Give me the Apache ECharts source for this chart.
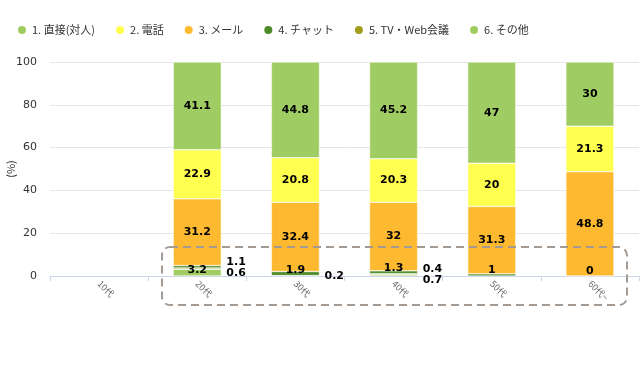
<!DOCTYPE html>
<html>
<head>
<meta charset="utf-8">
<script src="https://cdn.jsdelivr.net/npm/echarts@6/dist/echarts.min.js"></script>
<style>html,body{margin:0;padding:0;background:#fff}#c{width:640px;height:370px}</style>
</head>
<body>
<div id="c"></div>
<script>
// ---- data ----
const categories = ['10代', '20代', '30代', '40代', '50代', '60代~'];
const legendNames = ['1. 直接(対人)', '2. 電話', '3. メール', '4. チャット', '5. TV・Web会議', '6. その他'];
const direct = [null, 41.1, 44.8, 45.2, 47, 30];
const phone  = [null, 22.9, 20.8, 20.3, 20, 21.3];
const mail   = [null, 31.2, 32.4, 32, 31.3, 48.8];
const chat   = [null, 1.1, 1.9, 1.3, 1, 0];
const tvweb  = [null, 0.6, 0.2, 0.4, null, null];
const other  = [null, 3.2, null, 0.7, null, null];
const yTicks = { min: 0, max: 100, interval: 20 };

// ---- styles ----
const colors = {
  direct: '#a0cd63', phone: '#ffff50', mail: '#fdb92f',
  chat: '#4e8b2a', tvweb: '#a19d1c', other: '#a0cd63'
};

// stacking order bottom -> top
const stackOrder = [
  { name: legendNames[5], data: other, color: colors.other, small: true },
  { name: legendNames[4], data: tvweb, color: colors.tvweb, small: true },
  { name: legendNames[3], data: chat, color: colors.chat, small: true },
  { name: legendNames[2], data: mail, color: colors.mail, small: false },
  { name: legendNames[1], data: phone, color: colors.phone, small: false },
  { name: legendNames[0], data: direct, color: colors.direct, small: false }
];
const smallIdx = [0, 1, 2];

// percent stacking: totals per category
const totals = categories.map((c, di) =>
  stackOrder.reduce((t, cfg) => t + (cfg.data[di] == null ? 0 : cfg.data[di]), 0));
function pct(v, di) { return totals[di] > 0 ? v / totals[di] * 100 : 0; }

function isRight(si, di) {
  if (!stackOrder[si].small) return false;
  const v = stackOrder[si].data[di];
  if (v == null) return false;
  let maxV = -Infinity, maxS = -1;
  smallIdx.forEach(s => {
    const w = stackOrder[s].data[di];
    if (w != null && w > maxV) { maxV = w; maxS = s; }
  });
  return si !== maxS;
}

const chart = echarts.init(document.getElementById('c'), null, { renderer: 'canvas' });

function naturalY(si, di) {
  let base = 0;
  for (let s = 0; s < si; s++) {
    const w = stackOrder[s].data[di];
    if (w != null) base += pct(w, di);
  }
  const v = pct(stackOrder[si].data[di], di);
  return chart.convertToPixel({ yAxisIndex: 0 }, base + v / 2);
}

function layoutRight(params) {
  const si = params.seriesIndex, di = params.dataIndex;
  if (!isRight(si, di)) return {};
  const group = smallIdx.filter(s => isRight(s, di)).map(s => ({ s, y: naturalY(s, di) }));
  group.sort((a, b) => a.y - b.y);
  const sep = 11;
  let clusters = group.map(g => ({ items: [g], center: g.y }));
  let merged = true;
  while (merged) {
    merged = false;
    for (let i = 0; i < clusters.length - 1; i++) {
      const a = clusters[i], b = clusters[i + 1];
      const aBottom = a.center + (a.items.length - 1) / 2 * sep;
      const bTop = b.center - (b.items.length - 1) / 2 * sep;
      if (bTop - aBottom < sep) {
        const items = a.items.concat(b.items);
        const center = items.reduce((t, it) => t + it.y, 0) / items.length;
        clusters.splice(i, 2, { items, center });
        merged = true;
        break;
      }
    }
  }
  let newY = null, myY = null;
  clusters.forEach(c => {
    c.items.forEach((it, k) => {
      if (it.s === si) {
        myY = it.y;
        newY = c.center + (k - (c.items.length - 1) / 2) * sep;
      }
    });
  });
  return { dy: newY - myY };
}

const labelFont = { color: '#000', fontWeight: 'bold', fontSize: 11, fontFamily: 'DejaVu Sans' };

const series = stackOrder.map((cfg, si) => ({
  name: cfg.name,
  type: 'bar',
  stack: 'total',
  barWidth: '49%',
  itemStyle: { color: cfg.color, borderColor: '#fff', borderWidth: 0.5 },
  label: Object.assign({
    show: true, position: 'inside',
    formatter: p => String(stackOrder[p.seriesIndex].data[p.dataIndex])
  }, labelFont),
  labelLayout: cfg.small ? layoutRight : undefined,
  data: cfg.data.map((v, di) => {
    if (v == null) return null;
    const item = { value: pct(v, di) };
    if (cfg.small) {
      item.label = isRight(si, di) ? { position: 'right', distance: 5 } : { position: 'insideBottom', distance: 0 };
    }
    return item;
  })
}));

chart.setOption({
  animation: false,
  backgroundColor: '#fff',
  legend: {
    data: legendNames.map(n => ({ name: n, icon: 'circle' })),
    left: 16, top: 24, padding: 0,
    itemWidth: 10, itemHeight: 10, itemGap: 19,
    textStyle: { fontSize: 11, color: '#333', fontFamily: 'Noto Sans CJK JP' }
  },
  grid: { left: 50, right: 1, top: 62, bottom: 94, outerBoundsMode: 'none' },
  xAxis: {
    type: 'category',
    data: categories,
    axisLine: { lineStyle: { color: '#ccd6eb', width: 1 } },
    axisTick: { show: true, length: 5, lineStyle: { color: '#ccd6eb' } },
    axisLabel: { rotate: -45, fontSize: 9, color: '#666', margin: 6, fontFamily: 'Noto Sans CJK JP' }
  },
  yAxis: {
    type: 'value',
    min: yTicks.min, max: yTicks.max, interval: yTicks.interval,
    name: '(%)', nameLocation: 'middle', nameGap: 34, nameMoveOverlap: false,
    nameTextStyle: { fontSize: 11, color: '#333', fontFamily: 'Noto Sans CJK JP' },
    axisLine: { show: false }, axisTick: { show: false },
    axisLabel: { fontSize: 11, color: '#333', margin: 13, fontFamily: 'DejaVu Sans' },
    splitLine: { lineStyle: { color: '#e6e6e6' } }
  },
  graphic: [{
    type: 'rect', z: 100,
    shape: { x: 162, y: 247, width: 465, height: 58, r: 8 },
    style: { fill: 'none', stroke: '#a59a92', lineWidth: 2, lineDash: [8, 5] }
  }],
  series: series
});
</script>
</body>
</html>
